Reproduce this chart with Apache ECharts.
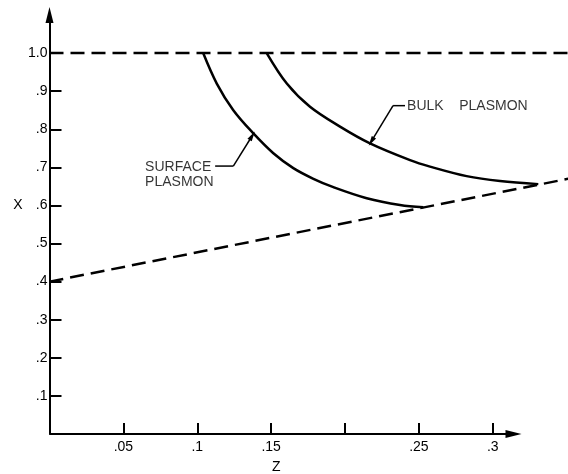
<!DOCTYPE html>
<html>
<head>
<meta charset="utf-8">
<script src="https://cdn.jsdelivr.net/npm/echarts@6/dist/echarts.min.js"></script>
<style>html,body{margin:0;padding:0;background:#fff;}#c{width:568px;height:474px;}</style>
</head>
<body>
<div id="c"></div>
<script>
// ---- data ----
const zTicks = [0.05, 0.1, 0.15, 0.2, 0.25, 0.3];
const zTickLabels = ['.05', '.1', '.15', '', '.25', '.3'];
const xTicks = [0.1, 0.2, 0.3, 0.4, 0.5, 0.6, 0.7, 0.8, 0.9, 1.0];
const xTickLabels = ['.1', '.2', '.3', '.4', '.5', '.6', '.7', '.8', '.9', '1.0'];

const surfacePlasmon = [[0.104,1.0],[0.1132,0.920],[0.1244,0.850],[0.1380,0.789],[0.1515,0.737],[0.1650,0.698],[0.1786,0.670],[0.1921,0.648],[0.2147,0.619],[0.2372,0.601],[0.2530,0.595]];
const bulkPlasmon = [[0.147,1.0],[0.1606,0.920],[0.1763,0.859],[0.1966,0.807],[0.2169,0.763],[0.2440,0.719],[0.2575,0.702],[0.2823,0.677],[0.3049,0.664],[0.3308,0.656]];
const upperLimit = [[0, 1.0], [0.351, 1.0]];
const lowerLimit = [[0, 0.4], [0.351, 0.67]];

const zAxisExtent = [[0, 0], [0.314, 0]];
const bulkLeader = [[0.2406, 0.862], [0.2325, 0.862], [0.2178, 0.768]];
const surfaceLeader = [[0.1121, 0.7034], [0.1244, 0.7034], [0.1372, 0.783]];
const annotations = [
  { name: 'BULK    PLASMON', value: [0.2420, 0.860] },
  { name: 'SURFACE', value: [0.0647, 0.7016] },
  { name: 'PLASMON', value: [0.0647, 0.662] }
];
const axisNames = [
  { text: 'X', pos: [-0.0213, 0.6] },
  { text: 'Z', pos: [0.1535, -0.087] }
];

function lookup(ticks, labels, v) {
  for (let i = 0; i < ticks.length; i++) if (Math.abs(ticks[i] - v) < 1e-6) return labels[i];
  return '';
}

const FONT = 'Liberation Sans';
const INK = '#000';
const arrowPath = 'path://M5,0L10,20L0,20Z';

const chart = echarts.init(document.getElementById('c'), null, { renderer: 'canvas' });

function leaderSeries(pts) {
  return {
    type: 'line', data: pts.slice(0, 2), symbol: 'none', clip: false, silent: true,
    lineStyle: { color: INK, width: 1.5 }, z: 5,
    markLine: {
      silent: true, animation: false,
      symbol: ['none', 'triangle'], symbolSize: [5, 10],
      lineStyle: { color: INK, width: 1.5, type: 'solid' },
      label: { show: false },
      data: [[{ coord: pts[1] }, { coord: pts[2] }]]
    }
  };
}

chart.setOption({
  animation: false,
  backgroundColor: '#fff',
  grid: { left: 49.5, right: 0, top: 15, bottom: 40, containLabel: false, outerBoundsMode: 'none' },
  xAxis: {
    type: 'value', min: 0, max: 0.3509,
    axisLine: { show: false },
    axisTick: { show: true, inside: true, length: 11, customValues: zTicks, lineStyle: { color: INK, width: 2 } },
    axisLabel: { show: true, margin: 6, color: INK, fontFamily: FONT, fontSize: 14, customValues: zTicks,
      formatter: v => lookup(zTicks, zTickLabels, v) },
    splitLine: { show: false }
  },
  yAxis: {
    type: 'value', min: 0, max: 1.1,
    axisLine: { show: true, symbol: ['none', arrowPath], symbolSize: [8, 16], lineStyle: { color: INK, width: 2 } },
    axisTick: { show: true, inside: true, length: 12, customValues: xTicks, lineStyle: { color: INK, width: 2 } },
    axisLabel: { show: true, margin: 2, color: INK, fontFamily: FONT, fontSize: 14, customValues: xTicks,
      formatter: v => lookup(xTicks, xTickLabels, v) },
    splitLine: { show: false }
  },
  series: [
    { type: 'line', data: upperLimit, symbol: 'none', clip: false, silent: true,
      lineStyle: { color: INK, width: 2.5, type: [14, 7] } },
    { type: 'line', data: lowerLimit, symbol: 'none', clip: false, silent: true,
      lineStyle: { color: INK, width: 2.5, type: [14, 7] } },
    { type: 'line', data: surfacePlasmon, symbol: 'none', smooth: 0.35, clip: false, silent: true,
      lineStyle: { color: INK, width: 2.5 } },
    { type: 'line', data: bulkPlasmon, symbol: 'none', smooth: 0.35, clip: false, silent: true,
      lineStyle: { color: INK, width: 2.5 } },
    { type: 'line', data: [], symbol: 'none', silent: true,
      markLine: {
        silent: true, animation: false,
        symbol: ['none', arrowPath], symbolSize: [8, 16],
        lineStyle: { color: INK, width: 2, type: 'solid' },
        label: { show: false },
        data: [[{ coord: zAxisExtent[0] }, { coord: zAxisExtent[1] }]]
      } },
    leaderSeries(bulkLeader),
    leaderSeries(surfaceLeader),
    { type: 'scatter', data: annotations, symbolSize: 0, clip: false, silent: true,
      label: { show: true, position: 'right', distance: 0, color: INK, fontFamily: FONT, fontSize: 14,
        formatter: p => p.name } }
  ]
});

chart.setOption({
  graphic: axisNames.map(n => {
    const px = chart.convertToPixel({ gridIndex: 0 }, n.pos);
    return { type: 'text', x: px[0], y: px[1], silent: true,
      style: { text: n.text, fill: INK, font: '14px "Liberation Sans"', align: 'center', verticalAlign: 'middle' } };
  })
});
</script>
</body>
</html>
